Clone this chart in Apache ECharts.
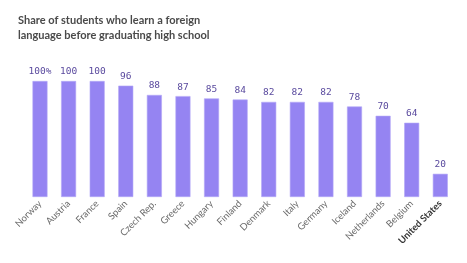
<!DOCTYPE html>
<html><head><meta charset="utf-8">
<script src="https://cdn.jsdelivr.net/npm/echarts@6/dist/echarts.min.js"></script>
<style>html,body{margin:0;padding:0;background:#fff}#c{width:467px;height:263px}</style>
</head><body><div id="c"></div>
<script>
const titleLines = ["Share of students who learn a foreign", "language before graduating high school"];
const countries = ["Norway","Austria","France","Spain","Czech Rep.","Greece","Hungary","Finland","Denmark","Italy","Germany","Iceland","Netherlands","Belgium","United States"];
const shares = [100,100,100,96,88,87,85,84,82,82,82,78,70,64,20];
const highlight = "United States";

const chart = echarts.init(document.getElementById('c'));
chart.setOption({
  animation: false,
  title: {
    text: titleLines.join("\n"),
    left: 13, top: 8,
    textStyle: {fontFamily: "Lato", fontWeight: "bold", fontSize: 11, color: "#4a4a4a", lineHeight: 15}
  },
  grid: {left: 25.7, right: 12.4, top: 81, bottom: 66},
  xAxis: {
    type: "category", data: countries,
    axisLine: {show: false}, axisTick: {show: false},
    axisLabel: {
      rotate: 45, interval: 0, margin: 5, fontSize: 9.5, color: "#6a6a6a", fontFamily: "Lato",
      formatter: v => v === highlight ? "{b|" + v + "}" : v,
      rich: {b: {fontWeight: "bold", color: "#333", fontSize: 9.5, fontFamily: "Lato"}}
    }
  },
  yAxis: {type: "value", min: 0, max: 100, show: false, splitLine: {show: false}},
  series: [{
    type: "bar", data: shares, barWidth: 15,
    itemStyle: {color: "#9584f2", borderColor: "#b3a7f7", borderWidth: 0.6},
    label: {
      show: true, position: "top", distance: 4,
      fontFamily: "DejaVu Sans Mono", fontSize: 9.5, color: "#5a4a9e",
      formatter: p => p.dataIndex === 0 ? p.value + "%" : String(p.value)
    }
  }]
});
</script></body></html>
